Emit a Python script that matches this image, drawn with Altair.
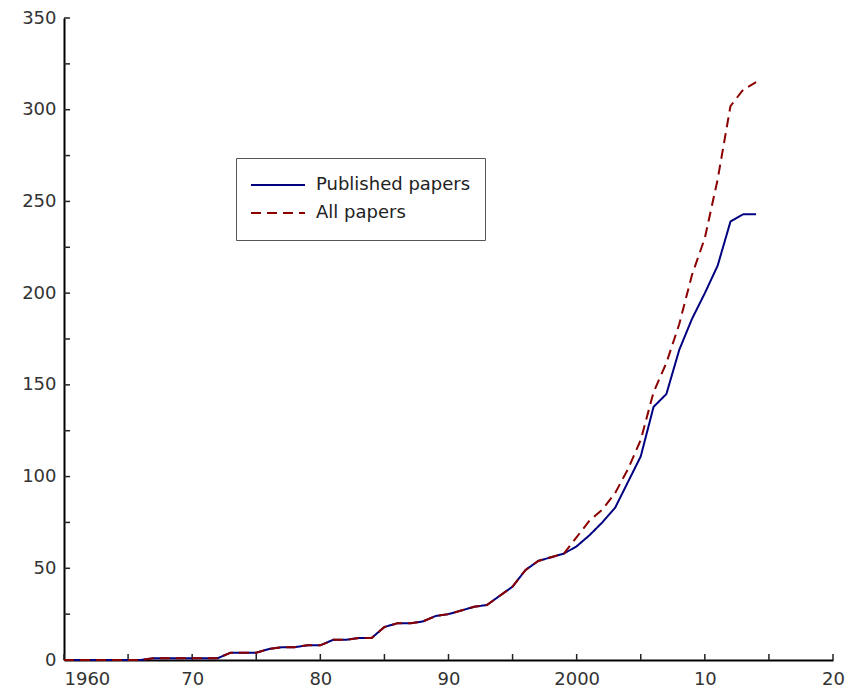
import altair as alt
import pandas as pd

years = list(range(1960, 2015))
published = [0, 0, 0, 0, 0, 0, 0, 1, 1, 1,
             1, 1, 1, 4, 4, 4, 6, 7, 7, 8,
             8, 11, 11, 12, 12, 18, 20, 20, 21, 24,
             25, 27, 29, 30, 35, 40, 49, 54, 56, 58,
             62, 68, 75, 83, 97, 111, 138, 145, 169, 186,
             200, 215, 239, 243, 243]
all_papers = [0, 0, 0, 0, 0, 0, 0, 1, 1, 1,
              1, 1, 1, 4, 4, 4, 6, 7, 7, 8,
              8, 11, 11, 12, 12, 18, 20, 20, 21, 24,
              25, 27, 29, 30, 35, 40, 49, 54, 56, 58,
              67, 76, 82, 91, 104, 120, 146, 162, 183, 210,
              230, 262, 302, 311, 315]
series_names = ["Published papers", "All papers"]
series_colors = ["#000080", "#8b0000"]

x_label_values = [1960, 1970, 1980, 1990, 2000, 2010, 2020]
x_label_texts = ["1960", "70", "80", "90", "2000", "10", "20"]
x_tick_values = list(range(1960, 2021, 5))
y_label_values = [0, 50, 100, 150, 200, 250, 300, 350]
y_tick_values = list(range(0, 351, 25))

FONT = "DejaVu Sans"
W, H = 769, 642

df = pd.DataFrame({
    "year": years * 2,
    "papers": published + all_papers,
    "series": [series_names[0]] * len(years) + [series_names[1]] * len(years),
})

label_expr = "[" + ",".join(f"'{t}'" for t in x_label_texts) + "][indexof([" + \
    ",".join(str(v) for v in x_label_values) + "], datum.value)]"

x_enc = alt.X(
    "year:Q",
    scale=alt.Scale(domain=[1960, 2020], nice=False, zero=False),
    axis=alt.Axis(
        values=x_label_values, labelExpr=label_expr, title=None, ticks=False, grid=False,
        domainColor="black", domainWidth=2, labelFont=FONT, labelFontSize=18,
        labelColor="#333", labelPadding=10,
        labelAlign={"expr": "datum.value == 1960 ? 'left' : 'center'"},
    ),
)
y_enc = alt.Y(
    "papers:Q",
    scale=alt.Scale(domain=[0, 350], nice=False),
    axis=alt.Axis(
        values=y_label_values, title=None, ticks=False, grid=False,
        domainColor="black", domainWidth=2, labelFont=FONT, labelFontSize=18,
        labelColor="#333", labelPadding=8,
    ),
)
color_enc = alt.Color(
    "series:N",
    scale=alt.Scale(domain=series_names, range=series_colors),
    legend=alt.Legend(
        title=None, orient="none", legendX=172, legendY=140,
        strokeColor="#555", fillColor="white", padding=14,
        symbolType="stroke", symbolSize=2916, symbolStrokeWidth=2,
        clipHeight=26, rowPadding=2, labelFont=FONT, labelFontSize=18,
        labelColor="#222", labelOffset=10, labelLimit=400,
    ),
)
dash_enc = alt.StrokeDash(
    "series:N",
    scale=alt.Scale(domain=series_names, range=[[1, 0], [10, 6]]),
    legend=alt.Legend(title=None),
)

base = alt.Chart(df).mark_line(strokeWidth=2).encode(
    x=x_enc, y=y_enc, color=color_enc, strokeDash=dash_enc
)
pub_layer = base.transform_filter(alt.datum.series == series_names[0])
all_layer = base.transform_filter(alt.datum.series == series_names[1])

xt = alt.Chart(pd.DataFrame({"t": x_tick_values})).mark_rule(
    color="#222", strokeWidth=1.5
).encode(x=alt.X("t:Q"), y=alt.value(H), y2=alt.value(H - 6))
yt = alt.Chart(pd.DataFrame({"v": y_tick_values})).mark_rule(
    color="#222", strokeWidth=1.5
).encode(y=alt.Y("v:Q"), x=alt.value(0), x2=alt.value(6))

chart = alt.layer(xt, yt, pub_layer, all_layer).properties(
    width=W, height=H,
    autosize=alt.AutoSizeParams(type="none"),
    padding={"left": 56, "top": 10, "right": 16, "bottom": 31},
    background="white",
).configure_view(strokeWidth=0)

chart.save("out.html", embed_options={"renderer": "svg", "actions": False})
